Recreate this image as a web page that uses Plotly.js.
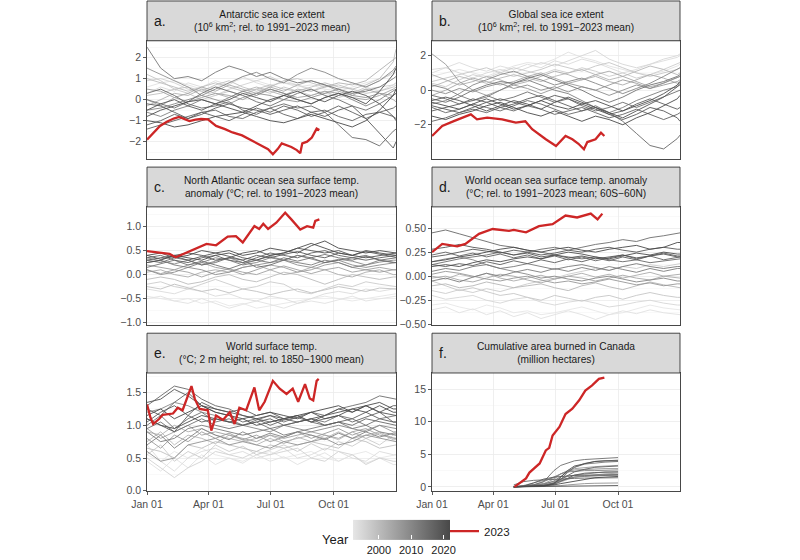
<!DOCTYPE html>
<html>
<head>
<meta charset="utf-8">
<script src="https://cdn.plot.ly/plotly-3.0.1.min.js"></script>
<style>html,body{margin:0;padding:0;background:#fff;}#chart{width:800px;height:560px;}</style>
</head>
<body>
<div id="chart"></div>
<script>
// ---------------- DATA ----------------
// day-of-year grid for the historical (grey) years
const dayGrid = [1,21,41,61,81,101,121,141,161,181,201,221,241,261,281,301,321,341,361,365];
const monthTickDays = [1,91,182,274];
const monthTickText = ['Jan 01','Apr 01','Jul 01','Oct 01'];
const colourYears = [1992, 2022];
const colourTicks = [2000, 2010, 2020];

// a. Antarctic sea ice extent anomaly
const antarcticYears = [1993,1994,1996,1998,1999,2000,2002,2004,2005,2008,2010,2011,2013,2015,2016,2017,2018,2019,2020,2021,2022];
const antarcticLines = [
 [0.6,0.8,0.9,0.7,0.5,0.6,0.8,1.0,0.9,0.7,0.8,0.6,0.7,0.5,0.4,0.6,0.8,1.0,1.2,1.3],
 [0.3,0.6,0.4,0.8,0.6,0.9,0.7,1.1,0.8,0.6,0.9,0.7,0.4,0.7,0.5,0.8,0.6,0.4,0.7,0.8],
 [0.9,1.0,0.8,0.5,0.4,0.2,0.5,0.7,0.9,1.1,0.8,0.7,0.5,0.3,0.2,0.3,0.5,0.6,0.7,0.8],
 [1.2,0.9,0.5,0.3,0.0,0.2,0.4,0.2,0.5,0.3,0.6,0.4,0.2,0.4,0.1,0.3,0.6,0.9,1.3,1.5],
 [0.2,0.3,0.5,0.6,0.4,0.7,0.9,0.6,0.4,0.6,0.9,1.0,0.8,0.6,0.7,0.5,0.3,0.4,0.6,0.7],
 [1.0,0.8,0.6,0.4,0.6,0.8,0.6,0.4,0.5,0.7,0.5,0.4,0.6,0.8,0.6,0.5,0.7,1.0,1.8,2.4],
 [-0.3,0.0,0.3,0.2,0.5,0.3,0.1,0.4,0.6,0.4,0.2,0.5,0.4,0.6,0.8,0.7,0.9,1.4,1.9,2.0],
 [0.0,-0.3,0.1,0.3,0.6,0.4,0.7,0.5,0.3,0.6,0.4,0.7,0.9,0.7,0.4,0.2,0.5,0.3,0.0,-0.1],
 [0.5,0.4,0.1,-0.1,0.1,0.3,0.2,0.0,0.3,0.5,0.3,0.1,0.2,0.4,0.3,0.1,0.0,0.2,0.5,0.6],
 [1.5,1.2,0.9,0.6,0.2,0.0,-0.2,0.1,0.3,0.2,0.0,-0.1,0.1,0.3,0.5,0.2,0.1,0.3,0.2,0.3],
 [-0.5,-0.4,-0.2,0.0,0.2,0.5,0.8,1.1,1.3,1.0,0.8,1.2,1.5,1.3,1.0,0.8,0.6,0.9,1.4,1.6],
 [-0.6,-0.8,-0.5,-0.3,0.0,-0.2,0.1,0.4,0.2,0.5,0.3,0.0,-0.2,0.1,0.3,0.0,-0.3,0.0,0.4,0.5],
 [2.5,1.5,1.0,1.1,0.9,1.3,1.6,1.4,1.1,1.3,1.0,0.8,0.9,0.7,0.5,0.3,0.4,0.6,1.0,1.1],
 [0.0,-0.2,-0.4,-0.1,0.3,0.6,0.4,0.2,-0.1,-0.3,0.0,0.3,0.5,0.2,0.0,-0.3,-0.5,-0.2,0.2,0.3],
 [0.3,0.5,0.2,-0.2,-0.4,-0.3,-0.1,-0.5,-0.7,-0.4,-0.2,-0.4,-0.3,-0.6,-1.2,-1.8,-1.9,-2.2,-1.5,-1.4],
 [-1.4,-1.2,-1.0,-0.8,-0.6,-0.5,-0.8,-0.9,-0.6,-0.4,-0.7,-0.9,-0.6,-0.5,-0.8,-1.0,-0.7,-0.6,-0.4,-0.3],
 [-1.2,-1.0,-0.7,-0.9,-0.6,-0.8,-1.0,-0.7,-0.4,-0.6,-0.3,-0.5,-0.8,-0.6,-0.3,-0.6,-0.9,-0.6,-0.8,-0.9],
 [-0.2,-0.3,-0.6,-0.9,-0.7,-0.4,-0.2,-0.4,-0.5,-0.7,-0.5,-0.3,-0.6,-0.8,-0.5,-0.3,-0.9,-1.6,-2.3,-2.0],
 [-0.5,-0.2,0.0,-0.3,-0.5,-0.2,0.0,0.3,0.1,-0.1,0.2,0.4,0.1,-0.1,0.2,0.4,0.2,-0.2,-0.8,-1.0],
 [-0.8,-0.5,-0.3,-0.1,0.0,-0.2,-0.4,-0.6,-0.3,0.0,0.2,0.0,-0.2,0.1,0.3,0.1,-0.2,0.4,1.2,1.5],
 [-1.0,-1.1,-1.3,-1.2,-1.0,-0.8,-0.7,-0.6,-0.8,-1.0,-1.1,-0.9,-0.7,-0.9,-1.1,-1.3,-1.0,-0.5,0.2,0.5]
];
const antarctic2023Days = [1,10,20,30,40,48,55,63,72,80,90,102,115,126,140,151,165,178,185,192,198,205,212,220,225,228,235,242,249,253];
const antarctic2023 = [-1.9,-1.6,-1.25,-1.05,-0.9,-0.82,-0.9,-1.02,-0.95,-0.92,-0.94,-1.25,-1.4,-1.56,-1.7,-1.89,-2.1,-2.36,-2.6,-2.35,-2.08,-2.15,-2.25,-2.4,-2.55,-2.08,-2.0,-1.8,-1.38,-1.45];

// b. Global sea ice extent anomaly
const globalIceYears = [1993,1994,1995,1997,1998,2001,2003,2004,2007,2009,2010,2012,2014,2015,2016,2017,2018,2019,2020,2021,2022];
const globalIceLines = [
 [0.8,1.0,1.2,1.0,0.8,1.1,1.4,1.6,1.5,1.8,2.2,1.9,1.7,1.4,1.2,1.0,0.9,1.1,1.4,1.5],
 [1.0,1.3,1.6,1.3,1.1,1.4,1.2,1.5,1.3,1.7,1.5,1.8,1.6,1.3,1.0,1.2,1.5,1.7,1.9,2.0],
 [1.2,1.3,1.0,0.7,1.0,1.2,1.0,1.3,1.6,1.4,1.7,2.0,2.3,1.8,1.5,1.3,1.5,1.8,2.0,2.1],
 [0.4,0.2,0.6,0.9,0.7,1.0,1.3,1.1,0.9,1.2,1.0,1.3,1.1,0.8,1.0,0.7,0.9,1.2,1.5,1.6],
 [0.5,0.7,0.9,1.1,1.3,1.0,0.8,1.0,1.2,1.5,1.3,1.1,1.4,1.6,1.3,1.0,0.8,1.0,1.2,1.3],
 [0.2,0.5,0.8,0.6,0.4,0.7,0.9,0.7,0.5,0.8,1.0,1.2,0.9,0.6,0.8,1.1,1.4,1.2,0.9,1.0],
 [0.9,0.6,0.3,0.5,0.8,0.6,0.3,0.5,0.8,1.1,0.9,0.6,0.8,0.5,0.3,0.6,0.9,0.7,0.4,0.5],
 [-0.3,0.0,0.4,0.7,0.5,0.3,0.5,0.8,1.0,0.7,0.4,0.6,0.9,1.1,0.8,0.5,0.2,0.4,0.7,0.8],
 [2.1,1.5,0.5,0.0,-0.3,0.0,0.3,0.1,-0.2,0.1,0.4,0.2,0.0,0.3,0.6,0.4,0.1,0.3,0.5,0.6],
 [0.0,-0.2,0.1,-0.1,0.2,0.4,0.1,0.3,0.0,0.2,-0.1,0.2,0.0,-0.3,0.0,0.3,0.1,0.4,0.7,0.8],
 [-0.8,-0.6,-0.2,0.3,0.6,0.9,1.1,0.8,0.6,0.3,0.5,0.7,0.4,0.1,-0.2,0.1,0.4,0.8,1.2,1.3],
 [0.3,0.1,-0.3,-0.6,-0.4,0.0,0.4,0.6,0.3,0.0,-0.2,-0.6,-1.0,-1.3,-1.0,-0.6,-0.3,0.0,0.2,0.3],
 [-0.5,-0.7,-0.4,0.0,0.3,0.5,0.4,0.7,0.9,0.6,0.3,0.0,-0.4,-0.7,-0.4,0.0,0.3,0.5,0.8,0.9],
 [-0.3,-0.5,-0.8,-0.6,-0.3,-0.6,-0.4,-0.1,-0.4,-0.7,-0.5,-0.9,-1.2,-1.0,-0.7,-1.0,-0.7,-0.4,-0.1,0.0],
 [-1.0,-1.3,-1.1,-0.8,-1.0,-1.2,-0.9,-0.6,-0.8,-1.1,-1.4,-1.2,-0.9,-1.3,-1.8,-2.5,-3.2,-3.4,-2.8,-2.6],
 [-1.8,-1.6,-1.3,-1.1,-1.3,-1.0,-1.2,-0.9,-1.1,-1.4,-1.2,-1.0,-1.3,-1.6,-1.4,-1.1,-1.4,-1.7,-1.4,-1.3],
 [-1.2,-1.0,-0.8,-0.5,-0.7,-1.0,-0.8,-0.5,-0.3,-0.6,-0.9,-1.2,-1.0,-1.4,-1.2,-0.8,-0.5,-0.8,-1.1,-1.0],
 [-0.9,-1.1,-1.3,-1.0,-0.7,-0.5,-0.7,-0.9,-0.6,-0.3,-0.5,-0.8,-1.1,-1.4,-1.7,-1.4,-1.0,-1.2,-1.6,-1.8],
 [-0.6,-0.4,-0.6,-0.9,-1.2,-0.9,-0.6,-0.8,-1.1,-0.7,-0.4,-0.7,-1.0,-1.3,-1.6,-1.2,-0.8,-0.4,0.2,0.4],
 [-0.7,-0.9,-1.1,-0.8,-0.5,-0.8,-1.1,-0.9,-0.6,-0.9,-1.1,-0.8,-0.6,-0.9,-1.2,-0.9,-0.6,-0.2,0.3,0.5],
 [-1.5,-1.7,-1.4,-1.2,-0.9,-0.7,-1.0,-1.3,-1.5,-1.2,-1.5,-1.8,-1.5,-1.7,-2.0,-1.6,-1.3,-0.9,-0.5,-0.3]
];
const globalIce2023Days = [1,16,33,45,58,67,82,104,124,138,148,168,183,197,207,216,224,229,241,249,254];
const globalIce2023 = [-2.65,-2.07,-1.79,-1.6,-1.4,-1.69,-1.59,-1.69,-1.88,-1.8,-2.26,-2.84,-3.23,-2.65,-2.84,-3.1,-3.42,-3.0,-2.84,-2.46,-2.65];

// c. North Atlantic SST anomaly
const nAtlanticYears = [1992,1993,1994,1997,1999,2000,2003,2005,2006,2009,2010,2012,2014,2015,2017,2019,2020,2021,2022];
const nAtlanticLines = [
 [-0.45,-0.5,-0.55,-0.5,-0.6,-0.55,-0.65,-0.6,-0.7,-0.65,-0.6,-0.55,-0.5,-0.45,-0.5,-0.55,-0.5,-0.45,-0.4,-0.4],
 [-0.5,-0.45,-0.55,-0.6,-0.5,-0.6,-0.7,-0.62,-0.55,-0.62,-0.7,-0.6,-0.55,-0.6,-0.52,-0.45,-0.55,-0.5,-0.45,-0.45],
 [-0.3,-0.35,-0.4,-0.3,-0.35,-0.45,-0.4,-0.5,-0.55,-0.45,-0.5,-0.6,-0.5,-0.4,-0.35,-0.4,-0.3,-0.35,-0.3,-0.3],
 [-0.2,-0.15,-0.25,-0.3,-0.2,-0.1,-0.2,-0.3,-0.25,-0.15,-0.2,-0.35,-0.4,-0.3,-0.2,-0.25,-0.15,-0.2,-0.25,-0.25],
 [-0.25,-0.3,-0.2,-0.28,-0.35,-0.3,-0.38,-0.3,-0.35,-0.42,-0.35,-0.3,-0.38,-0.32,-0.25,-0.3,-0.35,-0.28,-0.3,-0.3],
 [-0.1,-0.05,-0.1,-0.2,-0.15,-0.05,0.0,-0.1,-0.15,-0.05,0.05,0.0,-0.1,-0.2,-0.1,0.0,-0.05,-0.1,-0.05,-0.05],
 [0.05,0.1,0.0,-0.05,0.05,0.1,0.05,0.15,0.2,0.1,0.0,0.05,0.15,0.1,0.0,-0.05,0.05,0.1,0.0,0.0],
 [0.1,0.02,0.1,0.05,-0.05,0.05,0.12,0.05,0.0,0.1,0.18,0.1,0.02,0.1,0.15,0.05,0.1,0.15,0.1,0.1],
 [0.2,0.15,0.1,0.2,0.25,0.15,0.1,0.0,0.1,0.2,0.15,0.05,0.1,0.2,0.25,0.15,0.1,0.05,0.1,0.1],
 [0.1,0.0,0.05,0.15,0.1,0.0,0.05,0.15,0.2,0.25,0.3,0.2,0.15,0.25,0.3,0.2,0.15,0.2,0.25,0.25],
 [0.35,0.28,0.22,0.3,0.2,0.28,0.35,0.25,0.3,0.38,0.3,0.4,0.33,0.25,0.32,0.28,0.2,0.26,0.3,0.3],
 [0.25,0.3,0.2,0.15,0.25,0.35,0.3,0.2,0.25,0.35,0.3,0.25,0.2,0.3,0.25,0.15,0.2,0.3,0.25,0.25],
 [0.15,0.22,0.3,0.2,0.28,0.2,0.12,0.22,0.3,0.25,0.35,0.28,0.35,0.42,0.35,0.3,0.38,0.3,0.25,0.25],
 [0.3,0.25,0.35,0.3,0.2,0.25,0.35,0.3,0.15,0.2,0.3,0.4,0.35,0.25,0.3,0.35,0.4,0.3,0.35,0.35],
 [0.35,0.4,0.3,0.25,0.35,0.4,0.3,0.25,0.35,0.45,0.4,0.35,0.45,0.5,0.4,0.35,0.3,0.35,0.4,0.4],
 [0.4,0.32,0.38,0.3,0.38,0.45,0.38,0.3,0.4,0.35,0.42,0.48,0.4,0.35,0.45,0.4,0.48,0.42,0.36,0.36],
 [0.3,0.35,0.4,0.45,0.4,0.3,0.35,0.45,0.5,0.4,0.45,0.55,0.5,0.45,0.5,0.4,0.35,0.4,0.45,0.45],
 [0.25,0.3,0.4,0.35,0.3,0.4,0.45,0.35,0.3,0.4,0.45,0.55,0.65,0.55,0.45,0.4,0.5,0.45,0.4,0.4],
 [0.4,0.45,0.35,0.4,0.5,0.45,0.5,0.4,0.45,0.55,0.5,0.45,0.6,0.7,0.55,0.5,0.45,0.5,0.45,0.45]
];
const nAtlantic2023Days = [1,19,34,43,63,88,102,119,131,141,158,165,171,178,190,203,212,225,235,244,247,253];
const nAtlantic2023 = [0.49,0.46,0.43,0.36,0.48,0.64,0.61,0.79,0.8,0.67,1.01,0.95,1.06,0.95,1.08,1.29,1.15,0.94,1.01,0.98,1.12,1.15];

// d. World ocean SST anomaly (60S-60N)
const worldSstYears = [1992,1993,1995,1997,1998,2001,2003,2004,2007,2010,2012,2013,2015,2016,2017,2018,2019,2020,2021,2022];
const worldSstLines = [
 [-0.3,-0.28,-0.32,-0.35,-0.3,-0.33,-0.38,-0.36,-0.4,-0.38,-0.35,-0.32,-0.36,-0.4,-0.38,-0.34,-0.3,-0.33,-0.35,-0.35],
 [-0.35,-0.32,-0.38,-0.34,-0.4,-0.36,-0.42,-0.38,-0.44,-0.4,-0.36,-0.4,-0.45,-0.4,-0.36,-0.39,-0.35,-0.38,-0.4,-0.4],
 [-0.2,-0.24,-0.22,-0.2,-0.25,-0.28,-0.24,-0.22,-0.27,-0.3,-0.27,-0.25,-0.28,-0.32,-0.3,-0.27,-0.25,-0.28,-0.3,-0.3],
 [-0.15,-0.18,-0.14,-0.17,-0.13,-0.16,-0.12,-0.08,-0.05,-0.02,0.02,0.05,0.08,0.06,0.1,0.08,0.12,0.1,0.13,0.13],
 [-0.05,-0.1,-0.15,-0.12,-0.16,-0.2,-0.18,-0.22,-0.25,-0.2,-0.23,-0.26,-0.22,-0.2,-0.24,-0.2,-0.17,-0.2,-0.22,-0.22],
 [-0.1,-0.08,-0.12,-0.1,-0.06,-0.09,-0.12,-0.1,-0.08,-0.12,-0.15,-0.1,-0.07,-0.11,-0.14,-0.1,-0.06,-0.09,-0.12,-0.12],
 [0.0,-0.03,0.02,-0.01,0.03,-0.02,-0.05,-0.02,0.01,-0.03,0.0,0.03,-0.01,0.02,-0.02,0.01,0.04,0.0,-0.02,-0.02],
 [-0.02,0.0,-0.04,-0.06,-0.02,0.02,0.0,-0.04,-0.07,-0.03,0.0,-0.02,-0.05,-0.02,0.01,-0.02,-0.04,0.0,0.02,0.02],
 [0.02,0.05,0.03,0.0,-0.03,-0.05,-0.02,0.0,-0.04,-0.07,-0.05,-0.08,-0.06,-0.03,-0.06,-0.09,-0.07,-0.1,-0.08,-0.08],
 [0.15,0.18,0.2,0.17,0.12,0.08,0.05,0.02,-0.02,0.0,-0.03,-0.05,-0.02,0.0,-0.03,-0.06,-0.04,-0.02,-0.05,-0.05],
 [-0.05,-0.02,-0.06,-0.01,0.03,0.0,0.04,0.07,0.04,0.08,0.05,0.09,0.06,0.1,0.07,0.04,0.08,0.05,0.08,0.08],
 [0.05,0.08,0.06,0.1,0.12,0.08,0.1,0.13,0.1,0.07,0.1,0.12,0.09,0.06,0.1,0.13,0.1,0.08,0.1,0.1],
 [0.12,0.15,0.18,0.2,0.22,0.25,0.22,0.25,0.28,0.3,0.27,0.3,0.33,0.35,0.38,0.36,0.4,0.42,0.45,0.45],
 [0.45,0.48,0.44,0.4,0.36,0.32,0.3,0.27,0.25,0.22,0.2,0.18,0.2,0.17,0.15,0.17,0.14,0.16,0.18,0.18],
 [0.22,0.25,0.21,0.24,0.2,0.23,0.19,0.22,0.18,0.21,0.17,0.2,0.16,0.19,0.22,0.18,0.21,0.17,0.2,0.2],
 [0.12,0.1,0.13,0.11,0.15,0.12,0.16,0.13,0.17,0.14,0.18,0.15,0.19,0.16,0.2,0.17,0.21,0.24,0.21,0.21],
 [0.2,0.22,0.25,0.28,0.26,0.24,0.27,0.25,0.22,0.24,0.27,0.25,0.28,0.3,0.27,0.25,0.28,0.3,0.28,0.28],
 [0.28,0.3,0.33,0.3,0.28,0.25,0.22,0.24,0.2,0.22,0.19,0.21,0.18,0.2,0.22,0.19,0.21,0.23,0.2,0.2],
 [0.1,0.12,0.1,0.14,0.17,0.15,0.18,0.2,0.18,0.22,0.25,0.23,0.2,0.18,0.21,0.24,0.22,0.25,0.23,0.23],
 [0.15,0.17,0.2,0.22,0.25,0.28,0.3,0.27,0.25,0.28,0.3,0.27,0.25,0.28,0.3,0.32,0.28,0.3,0.35,0.35]
];
const worldSst2023Days = [1,16,38,50,70,90,114,121,139,158,178,197,214,234,244,251];
const worldSst2023 = [0.25,0.335,0.31,0.335,0.44,0.49,0.47,0.48,0.455,0.52,0.54,0.63,0.61,0.65,0.59,0.65];

// e. World surface air temperature (rel. to 1850-1900)
const surfTempYears = [1992,1993,1994,1996,1997,1999,2001,2002,2005,2006,2008,2010,2011,2012,2014,2015,2016,2017,2018,2019,2020,2021,2022];
const surfTempLines = [
 [0.55,0.45,0.6,0.5,0.65,0.55,0.5,0.45,0.55,0.6,0.5,0.55,0.6,0.5,0.45,0.55,0.6,0.5,0.55,0.55],
 [0.45,0.3,0.5,0.35,0.55,0.4,0.5,0.42,0.55,0.45,0.52,0.4,0.5,0.58,0.45,0.55,0.42,0.5,0.4,0.4],
 [0.7,0.45,0.3,0.5,0.6,0.65,0.55,0.6,0.5,0.55,0.65,0.5,0.55,0.65,0.6,0.5,0.45,0.6,0.55,0.55],
 [0.5,0.35,0.2,0.35,0.45,0.6,0.55,0.5,0.6,0.55,0.6,0.65,0.5,0.45,0.6,0.55,0.4,0.5,0.45,0.45],
 [0.55,0.7,0.45,0.6,0.5,0.7,0.6,0.68,0.55,0.62,0.7,0.6,0.72,0.62,0.75,0.68,0.8,0.7,0.85,0.85],
 [0.65,0.6,0.5,0.7,0.65,0.75,0.7,0.65,0.6,0.7,0.65,0.7,0.75,0.7,0.65,0.8,0.75,0.65,0.7,0.7],
 [0.75,0.9,0.7,0.85,0.8,0.72,0.85,0.78,0.7,0.8,0.72,0.82,0.75,0.85,0.78,0.9,0.8,0.88,0.78,0.78],
 [0.9,0.85,1.0,0.9,0.95,0.85,0.8,0.75,0.8,0.85,0.75,0.8,0.85,0.8,0.9,0.8,0.85,0.9,0.8,0.8],
 [0.95,0.8,0.9,1.0,0.85,0.9,0.85,0.8,0.75,0.85,0.8,0.85,0.9,0.85,0.8,0.9,0.95,0.85,0.8,0.8],
 [0.8,0.65,0.85,0.75,0.9,0.8,0.88,0.78,0.85,0.75,0.82,0.9,0.8,0.88,0.95,0.85,0.92,1.0,0.9,0.9],
 [0.6,0.45,0.5,0.7,0.75,0.8,0.7,0.75,0.7,0.65,0.75,0.7,0.75,0.8,0.7,0.75,0.85,0.8,0.75,0.75],
 [1.2,1.25,1.35,1.3,1.2,1.15,1.05,1.0,0.95,0.9,1.0,0.95,0.9,0.95,1.0,0.95,0.9,1.0,0.95,0.95],
 [0.7,0.85,0.65,0.8,0.95,0.85,0.78,0.9,0.8,0.88,0.82,0.9,0.85,0.78,0.88,0.8,0.9,0.82,0.88,0.88],
 [0.9,0.75,0.8,0.95,1.0,0.95,0.9,0.85,0.9,0.95,0.85,0.9,0.95,1.0,1.05,0.95,1.0,0.9,0.85,0.85],
 [0.95,1.05,0.9,1.0,1.1,1.0,0.95,1.0,1.05,0.95,1.0,1.05,1.1,1.05,1.15,1.1,1.0,1.1,1.15,1.15],
 [1.0,1.15,0.95,1.1,1.2,1.05,1.1,1.0,1.08,1.15,1.05,1.12,1.2,1.15,1.25,1.3,1.35,1.45,1.4,1.4],
 [1.3,1.45,1.6,1.55,1.4,1.3,1.25,1.15,1.1,1.05,1.1,1.15,1.05,1.0,1.05,1.0,1.1,1.05,1.0,1.0],
 [1.25,1.15,1.35,1.5,1.3,1.2,1.15,1.05,1.1,1.0,1.08,1.12,1.05,1.1,1.15,1.05,1.12,1.2,1.05,1.05],
 [1.1,1.0,0.9,1.15,1.05,1.1,1.05,1.0,1.05,1.1,1.0,1.05,1.1,1.0,1.05,1.1,1.2,1.1,1.05,1.05],
 [1.05,1.2,1.3,1.15,1.35,1.25,1.2,1.25,1.15,1.2,1.1,1.15,1.05,1.15,1.25,1.2,1.3,1.2,1.3,1.3],
 [1.35,1.4,1.55,1.45,1.3,1.25,1.2,1.15,1.1,1.15,1.1,1.05,1.1,1.15,1.2,1.25,1.3,1.2,1.15,1.15],
 [1.1,1.0,0.95,1.05,1.15,1.1,1.05,1.1,1.0,1.05,1.1,1.15,1.2,1.1,1.15,1.25,1.2,1.3,1.2,1.2],
 [1.15,1.25,1.1,1.2,1.3,1.2,1.15,1.1,1.15,1.2,1.15,1.1,1.2,1.25,1.3,1.2,1.3,1.35,1.25,1.25]
];
const surfTemp2023Days = [1,6,10,19,24,39,46,53,66,71,78,90,95,102,112,122,129,136,146,158,165,173,185,195,205,214,222,232,239,244,249,252];
const surfTemp2023 = [1.32,1.12,1.02,1.1,1.16,1.18,1.27,1.23,1.6,1.4,1.25,1.23,0.92,1.15,1.08,1.2,1.02,1.27,1.23,1.58,1.23,1.36,1.68,1.56,1.48,1.56,1.36,1.63,1.41,1.38,1.68,1.71];

// f. Cumulative area burned in Canada (million ha)
const fireDays = [121,135,150,165,180,190,200,210,225,240,255,274];
const fireYears = [2005,2006,2007,2008,2009,2010,2011,2012,2013,2014,2015,2016,2017,2018,2019,2020,2021,2022];
const fireLines = [
 [0,0.05,0.1,0.2,0.4,0.8,1.2,1.5,1.7,1.8,1.85,1.9],
 [0,0.1,0.2,0.3,0.6,1.0,1.3,1.5,1.7,1.9,2.0,2.1],
 [0,0.05,0.2,0.5,1.2,2.0,2.5,2.8,3.0,3.1,3.2,3.3],
 [0,0.02,0.05,0.1,0.15,0.2,0.3,0.4,0.5,0.55,0.6,0.6],
 [0,0.2,0.6,1.0,1.4,2.0,2.4,2.6,2.7,2.8,2.8,2.8],
 [0,0.1,0.3,0.5,0.8,1.2,1.6,1.8,2.0,2.2,2.3,2.3],
 [0,0.1,0.3,0.8,1.5,2.0,2.3,2.4,2.5,2.5,2.55,2.6],
 [0,0.05,0.1,0.3,0.6,1.0,1.3,1.5,1.6,1.7,1.75,1.8],
 [0,0.1,0.2,0.4,0.9,1.6,2.4,3.0,3.5,3.7,3.8,3.9],
 [0,0.05,0.1,0.2,0.5,1.2,2.2,3.0,3.6,3.9,4.0,4.1],
 [0,0.1,0.3,0.8,2.5,3.3,3.7,4.0,4.2,4.3,4.4,4.5],
 [0.3,0.8,1.0,1.1,1.15,1.2,1.25,1.3,1.35,1.4,1.4,1.4],
 [0,0.05,0.1,0.2,0.6,1.2,1.8,2.3,2.7,3.0,3.1,3.2],
 [0,0.05,0.1,0.15,0.4,0.8,1.3,1.8,2.1,2.2,2.25,2.3],
 [0,0.1,0.6,1.2,1.5,1.6,1.7,1.75,1.8,1.8,1.85,1.85],
 [0,0.01,0.02,0.04,0.06,0.08,0.1,0.12,0.15,0.17,0.18,0.2],
 [0,0.02,0.05,0.1,0.5,1.5,2.5,3.2,3.6,3.9,4.0,4.0],
 [0,0.05,0.1,0.2,0.3,0.5,0.7,0.9,1.1,1.4,1.5,1.6]
];
const fire2023Days = [122,129,139,144,159,168,173,178,188,197,207,217,226,236,246,254];
const fire2023 = [0,0.5,1.3,2.2,3.6,5.6,6.0,7.9,9.2,11.2,12.0,13.3,14.8,15.6,16.6,16.8];

// ---------------- STYLE / BUILD ----------------
const RED = '#cd2626';
const GREY_LIGHT = 230, GREY_DARK = 72;
function greyFor(yr){
  const t = Math.max(0, Math.min(1, (yr - colourYears[0]) / (colourYears[1] - colourYears[0])));
  const v = Math.round(GREY_LIGHT - (GREY_LIGHT - GREY_DARK) * t);
  return 'rgb(' + v + ',' + v + ',' + v + ')';
}

const W = 800, H = 560;
const colX = [[147/W, 396/W], [432/W, 680/W]];
const rowPlot = [[1-160/H, 1-41/H], [1-327/H, 1-208/H], [1-494/H, 1-375/H]];
const rowStrip = [[1-41/H, 1-1/H], [1-208/H, 1-168/H], [1-375/H, 1-335/H]];

const panels = [
  {id:'', col:0, row:0, letter:'a.', title:'Antarctic sea ice extent<br>(10<sup>6</sup> km<sup>2</sup>; rel. to 1991−2023 mean)',
   years:antarcticYears, lines:antarcticLines, days:dayGrid, rDays:antarctic2023Days, rVals:antarctic2023,
   range:[-2.83,2.8], dtick:1, fmt:'', bottom:false},
  {id:'2', col:1, row:0, letter:'b.', title:'Global sea ice extent<br>(10<sup>6</sup> km<sup>2</sup>; rel. to 1991−2023 mean)',
   years:globalIceYears, lines:globalIceLines, days:dayGrid, rDays:globalIce2023Days, rVals:globalIce2023,
   range:[-3.99,2.86], dtick:2, fmt:'', bottom:false},
  {id:'3', col:0, row:1, letter:'c.', title:'North Atlantic ocean sea surface temp.<br>anomaly (°C; rel. to 1991−2023 mean)',
   years:nAtlanticYears, lines:nAtlanticLines, days:dayGrid, rDays:nAtlantic2023Days, rVals:nAtlantic2023,
   range:[-1.055,1.41], dtick:0.5, fmt:'.1f', bottom:false},
  {id:'4', col:1, row:1, letter:'d.', title:'World ocean sea surface temp. anomaly<br>(°C; rel. to 1991−2023 mean; 60S−60N)',
   years:worldSstYears, lines:worldSstLines, days:dayGrid, rDays:worldSst2023Days, rVals:worldSst2023,
   range:[-0.51,0.72], dtick:0.25, fmt:'.2f', bottom:false},
  {id:'5', col:0, row:2, letter:'e.', title:'World surface temp.<br>(°C; 2 m height; rel. to 1850−1900 mean)',
   years:surfTempYears, lines:surfTempLines, days:dayGrid, rDays:surfTemp2023Days, rVals:surfTemp2023,
   range:[-0.01,1.80], dtick:0.5, fmt:'.1f', bottom:true},
  {id:'6', col:1, row:2, letter:'f.', title:'Cumulative area burned in Canada<br>(million hectares)',
   years:fireYears, lines:fireLines, days:fireDays, rDays:fire2023Days, rVals:fire2023,
   range:[-0.69,17.5], dtick:5, fmt:'', bottom:true}
];

const traces = [];
const layout = {
  width: W, height: H,
  margin: {l:0, r:0, t:0, b:0},
  paper_bgcolor: '#ffffff', plot_bgcolor: '#ffffff',
  font: {family: '"Liberation Sans", Arial, sans-serif', color: '#1a1a1a'},
  showlegend: true,
  legend: {x: 444/W, xanchor: 'left', y: 1-534/H, yanchor: 'middle', bgcolor: 'rgba(0,0,0,0)',
           font: {size: 11.5, color: '#1a1a1a'}, itemwidth: 30},
  shapes: [], annotations: []
};

let legendShown = false;
panels.forEach(p => {
  const xa = 'x' + p.id, ya = 'y' + p.id;
  const order = p.years.map((y,i)=>i).sort((a,b)=>p.years[a]-p.years[b]);
  order.forEach(i => {
    traces.push({type:'scatter', mode:'lines', x:p.days, y:p.lines[i], xaxis:xa, yaxis:ya,
      line:{color:greyFor(p.years[i]), width:0.9}, showlegend:false, hoverinfo:'skip', name:String(p.years[i])});
  });
  traces.push({type:'scatter', mode:'lines', x:p.rDays, y:p.rVals, xaxis:xa, yaxis:ya,
    line:{color:RED, width:2.3}, name:'2023', showlegend:!legendShown, legendgroup:'2023'});
  legendShown = true;

  const xKey = 'xaxis' + p.id, yKey = 'yaxis' + p.id;
  layout[xKey] = {
    domain: colX[p.col], anchor: ya, range:[1,365], tickmode:'array', tickvals: monthTickDays, ticktext: monthTickText,
    showgrid:true, gridcolor:'#ebebeb', gridwidth:0.8, zeroline:false,
    showline:true, mirror:true, linecolor:'#333333', linewidth:0.9,
    showticklabels: p.bottom, ticks: p.bottom ? 'outside' : '', ticklen:3, tickcolor:'#333333', tickwidth:0.8,
    tickfont:{size:10.5, color:'#4d4d4d'}, fixedrange:true
  };
  layout[yKey] = {
    domain: rowPlot[p.row], anchor: xa, range: p.range, tickmode:'linear', tick0:0, dtick:p.dtick,
    tickformat: p.fmt, showgrid:true, gridcolor:'#ebebeb', gridwidth:0.8, zeroline:false,
    minor:{tickmode:'linear', tick0:0, dtick:p.dtick/2, showgrid:true, gridcolor:'#f5f5f5', gridwidth:0.6, ticks:''},
    showline:true, mirror:true, linecolor:'#333333', linewidth:0.9,
    ticks:'outside', ticklen:3, tickcolor:'#333333', tickwidth:0.8,
    tickfont:{size:10.5, color:'#4d4d4d'}, fixedrange:true
  };
  layout.shapes.push({type:'rect', xref:'paper', yref:'paper', x0:colX[p.col][0], x1:colX[p.col][1],
    y0:rowStrip[p.row][0], y1:rowStrip[p.row][1], fillcolor:'#d9d9d9', line:{color:'#333333', width:0.9}});
  layout.annotations.push({xref:'paper', yref:'paper', x:(colX[p.col][0]+colX[p.col][1])/2,
    y:(rowStrip[p.row][0]+rowStrip[p.row][1])/2, text:p.title, showarrow:false, align:'center',
    font:{size:10.2, color:'#1a1a1a'}, xanchor:'center', yanchor:'middle'});
  layout.annotations.push({xref:'paper', yref:'paper', x:colX[p.col][0]+5/W,
    y:(rowStrip[p.row][0]+rowStrip[p.row][1])/2, text:p.letter, showarrow:false,
    font:{size:14, color:'#1a1a1a'}, xanchor:'left', yanchor:'middle'});
});

// colour bar for years (off-range markers on panel f carry the scale)
traces.push({type:'scatter', mode:'markers', x:[-100,-100], y:[-100,-100], xaxis:'x6', yaxis:'y6',
  cliponaxis:true, showlegend:false, hoverinfo:'skip',
  marker:{size:1, color:colourYears, cmin:colourYears[0], cmax:colourYears[1],
    colorscale:[[0,greyFor(colourYears[0])],[1,greyFor(colourYears[1])]], showscale:true,
    colorbar:{orientation:'h', x:401.5/W, xanchor:'center', y:1-543/H, yanchor:'middle',
      len:97, lenmode:'pixels', thickness:20, thicknessmode:'pixels', outlinewidth:0,
      xpad:0, ypad:0, tickmode:'array', tickvals:colourTicks, ticks:'inside', ticklen:4,
      tickcolor:'#ffffff', tickwidth:1, tickfont:{size:11, color:'#1a1a1a'}, title:{text:''}}}});

layout.annotations.push({xref:'paper', yref:'paper', x:335/W, y:1-542/H, text:'Year', showarrow:false,
  font:{size:13, color:'#1a1a1a'}, xanchor:'center', yanchor:'middle'});

Plotly.newPlot('chart', traces, layout, {staticPlot:true, displayModeBar:false});
</script>
</body>
</html>
